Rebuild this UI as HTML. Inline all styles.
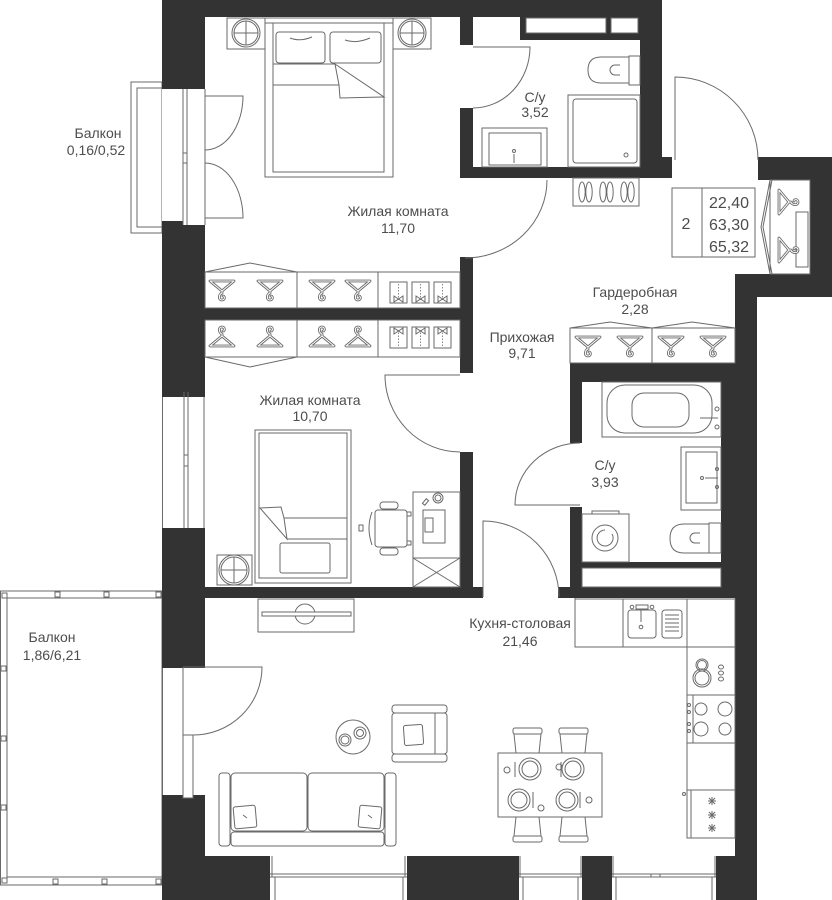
<!DOCTYPE html>
<html><head><meta charset="utf-8"><style>
html,body{margin:0;padding:0;background:#fff;}
svg{display:block;}
text{font-family:"Liberation Sans",sans-serif;fill:#4d4d4d;font-size:14px;text-anchor:middle;}
.w{fill:#333;}
.l{fill:none;stroke:#6a6a6a;stroke-width:1;}
.f{fill:#fff;stroke:#6a6a6a;stroke-width:1;}
</style></head><body>
<svg width="832" height="900" viewBox="0 0 832 900" xmlns="http://www.w3.org/2000/svg">
<defs>
<g id="hg" fill="none" stroke-linejoin="round" stroke-linecap="round">
<path d="M-12,-8 L12,-8 L0,2 Z M0,2 L0,4 C-3,5 -4,11 0,11 C3,11 3,7 1,7" stroke="#6a6a6a" stroke-width="2.8"/>
<path d="M-12,-8 L12,-8 L0,2 Z M0,2 L0,4 C-3,5 -4,11 0,11 C3,11 3,7 1,7" stroke="#fff" stroke-width="1"/>
</g>
<g id="cl">
<rect x="0" y="0" width="17" height="21" class="f"/>
<path d="M8.5,2 V18" stroke="#6a6a6a" stroke-width="0.8" stroke-dasharray="1.5,1.5"/>
<path d="M8.5,17 L4,14 L4,20 Z M8.5,17 L13,14 L13,20 Z" class="l"/>
</g>
<g id="chT"><rect x="0" y="0" width="29" height="6" rx="2" class="f"/><path d="M1,6 L3,25 M28,6 L26,25" class="l"/></g>
</defs>

<!-- small balcony -->
<rect x="131" y="82" width="31" height="151" class="f"/>
<rect x="137" y="88" width="25" height="139" class="f"/>

<!-- big balcony -->
<rect x="0.5" y="591" width="161.5" height="294" class="f"/>
<rect x="7" y="598" width="155" height="279" class="f"/>
<g class="f">
<rect x="2" y="593" width="5" height="5"/><rect x="55" y="592" width="5" height="5"/><rect x="104" y="592" width="5" height="5"/><rect x="156" y="592" width="5" height="5"/>
<rect x="1" y="666" width="5" height="5"/><rect x="1" y="736" width="5" height="5"/><rect x="1" y="805" width="5" height="5"/>
<rect x="2" y="878" width="5" height="5"/><rect x="53" y="879" width="5" height="5"/><rect x="102" y="879" width="5" height="5"/><rect x="156" y="879" width="5" height="5"/>
</g>

<!-- walls -->
<g class="w">
<rect x="162" y="0" width="500" height="17"/>
<rect x="640" y="0" width="22" height="178"/>
<rect x="640" y="157" width="32" height="21"/>
<rect x="460" y="167" width="212" height="11"/>
<rect x="460" y="17" width="13" height="28"/>
<rect x="460" y="108" width="13" height="70"/>
<rect x="520" y="17" width="120" height="23"/>
<rect x="162" y="0" width="43" height="89"/>
<rect x="162" y="221" width="21" height="7"/>
<rect x="162" y="225" width="43" height="172"/>
<rect x="205" y="308" width="268" height="12"/>
<rect x="460" y="257" width="13" height="116"/>
<rect x="460" y="452" width="13" height="136"/>
<rect x="162" y="528" width="43" height="140"/>
<rect x="162" y="587" width="321" height="11"/>
<rect x="558" y="587" width="199" height="11"/>
<rect x="162" y="795" width="43" height="105"/>
<rect x="162" y="856" width="595" height="44"/>
<rect x="735" y="274" width="22" height="626"/>
<rect x="735" y="274" width="97" height="23"/>
<rect x="810" y="157" width="22" height="140"/>
<rect x="758" y="157" width="74" height="23"/>
<rect x="570" y="363" width="187" height="19"/>
<rect x="721" y="363" width="36" height="235"/>
<rect x="570" y="363" width="12" height="80"/>
<rect x="570" y="507" width="12" height="91"/>
<rect x="570" y="562" width="187" height="36"/>
</g>
<rect x="582" y="568" width="139" height="19" class="f"/>
<rect x="526" y="18" width="80" height="15" class="f"/>
<rect x="611" y="18" width="27" height="15" class="f"/>

<!-- openings / windows -->
<rect x="162" y="89" width="43" height="132" fill="#fff"/>
<path d="M183,89 V225 M187,89 V225 M205,89 V225 M183,153 H187 M183,163 H187" class="l"/>
<rect x="162" y="397" width="43" height="131" fill="#fff"/>
<path d="M162.5,397 V528 M184,392 V528 M188,392 V528 M204,397 V528 M184,455 H188 M184,466 H188" class="l"/>
<rect x="162" y="668" width="43" height="127" fill="#fff"/>
<path d="M162.5,668 V795" class="l"/>
<rect x="183" y="735" width="10" height="63" class="f"/>
<path d="M183,667 V735" class="l"/>

<g>
<rect x="270" y="856" width="137" height="44" fill="#fff"/>
<path d="M270,874 H407 M270,877 H407 M272,856 V877 M405,856 V877" class="l"/>
<rect x="275" y="877" width="128" height="24" class="f"/>
<rect x="519" y="856" width="63" height="44" fill="#fff"/>
<path d="M519,874 H582 M519,877 H582 M520,856 V877 M581,856 V877" class="l"/>
<rect x="523" y="877" width="55" height="24" class="f"/>
<rect x="612" y="856" width="104" height="44" fill="#fff"/>
<path d="M612,874 H716 M612,877 H716 M613,856 V877 M715,856 V877 M651,874 V877 M660,874 V877" class="l"/>
<rect x="616" y="877" width="96" height="24" class="f"/>
</g>

<!-- doors -->
<path d="M205,96 L243,96 A38,54 0 0 1 205,150" class="l"/>
<path d="M205,218 L243,218 A38,55 0 0 0 205,163" class="l"/>
<path d="M473,47 L530,47 A57,61 0 0 1 473,108" class="l"/>
<path d="M547,180 A82,78 0 0 1 465,258" class="l"/>
<path d="M675,160 L675,77 A83,83 0 0 1 758,160" class="l"/>
<path d="M460,375 L385,375 A75,77 0 0 0 460,452" class="l"/>
<path d="M580,505 L515,505 A65,62 0 0 1 580,443" class="l"/>
<path d="M483,597 L483,521 A76,76 0 0 1 559,597" class="l"/>
<path d="M183,667 L262,667 A69,68 0 0 1 193,735" class="l"/>
<path d="M575,598 V610" class="l"/>

<!-- bedroom 11.70 -->
<rect x="227" y="18" width="38" height="31" class="f"/>
<circle cx="246" cy="33" r="14" class="l"/><circle cx="246" cy="33" r="12" class="l"/>
<path d="M234,33 H258 M246,21 V45" class="l"/>
<rect x="393" y="18" width="38" height="31" class="f"/>
<circle cx="412" cy="33" r="14" class="l"/><circle cx="412" cy="33" r="12" class="l"/>
<path d="M400,33 H424 M412,21 V45" class="l"/>
<rect x="265" y="18" width="128" height="159" class="f"/>
<path d="M265,23 H393 M273,23 V172 H384 V23" class="l"/>
<rect x="276" y="32" width="49" height="31" rx="3" class="f"/>
<rect x="330" y="32" width="51" height="31" rx="3" class="f"/>
<path d="M273,64 H335 M273,85 H339" class="l"/>
<path d="M335,64 L384,97 L340,98 L339,85 Z" class="f"/>
<path d="M290,38 Q300,42 312,37 M345,40 Q356,44 370,38" class="l"/>

<!-- wardrobes between bedrooms -->
<rect x="205" y="272" width="255" height="36" class="f"/>
<path d="M205,272 L250,263 L297,272 M297,272 V308 M378,272 V308" class="l"/>
<rect x="205" y="320" width="255" height="37" class="f"/>
<path d="M205,357 L250,367 L297,357 M297,320 V357 M378,320 V357" class="l"/>
<use href="#hg" transform="translate(222,289)"/>
<use href="#hg" transform="translate(270,289)"/>
<use href="#hg" transform="translate(322,289)"/>
<use href="#hg" transform="translate(358,289)"/>
<use href="#hg" transform="translate(222,338) scale(1,-1)"/>
<use href="#hg" transform="translate(270,338) scale(1,-1)"/>
<use href="#hg" transform="translate(322,338) scale(1,-1)"/>
<use href="#hg" transform="translate(358,338) scale(1,-1)"/>
<use href="#cl" transform="translate(390,282)"/>
<use href="#cl" transform="translate(412,282)"/>
<use href="#cl" transform="translate(434,282)"/>
<use href="#cl" transform="translate(390,348) scale(1,-1)"/>
<use href="#cl" transform="translate(412,348) scale(1,-1)"/>
<use href="#cl" transform="translate(434,348) scale(1,-1)"/>

<!-- bathroom 3.52 -->
<rect x="482" y="128" width="65" height="39" class="f"/>
<rect x="489" y="133" width="52" height="32" class="f"/>
<circle cx="514" cy="151" r="1.5" class="l"/>
<path d="M514,154 V163 M506,165 H522" class="l"/>
<rect x="568" y="95" width="72" height="72" class="f"/>
<rect x="573" y="99" width="64" height="64" rx="3" class="f"/>
<circle cx="626" cy="155" r="2" class="l"/>
<rect x="629" y="56" width="11" height="29" class="f"/>
<path d="M629,57 L601,57 Q588,57 588,70 Q588,83 601,83 L629,83" class="l"/>
<path d="M620,65 H615 A5,5 0 0 0 615,75 H620" class="l"/>

<!-- shoes -->
<rect x="573" y="178" width="66" height="28" class="f"/>
<g class="l">
<ellipse cx="582" cy="192" rx="3.2" ry="10"/><ellipse cx="589" cy="192" rx="3.2" ry="10"/>
<ellipse cx="603" cy="192" rx="3.2" ry="10"/><ellipse cx="610" cy="192" rx="3.2" ry="10"/>
<ellipse cx="624" cy="192" rx="3.2" ry="10"/><ellipse cx="631" cy="192" rx="3.2" ry="10"/>
</g>

<!-- info box -->
<rect x="672" y="188" width="83" height="69" class="f"/>
<path d="M702,188 V257" class="l"/>
<text x="686" y="229" style="font-size:16px">2</text>
<text x="729" y="208" style="font-size:16px">22,40</text>
<text x="729" y="230" style="font-size:16px">63,30</text>
<text x="729" y="252" style="font-size:16px">65,32</text>

<!-- closet near entrance -->
<rect x="770" y="180" width="40" height="94" class="f"/>
<path d="M770,180 L761,227 L770,274 M772,180 L763,227 L772,274" class="l"/>
<rect x="796" y="212" width="12" height="55" class="f"/>
<use href="#hg" transform="translate(787,202) rotate(-90)"/>
<use href="#hg" transform="translate(787,250) rotate(-90)"/>

<!-- gardrobe 2.28 -->
<rect x="570" y="328" width="165" height="35" class="f"/>
<path d="M570,328 L610,322 L652,328 L692,322 L735,328 M652,328 V363" class="l"/>
<use href="#hg" transform="translate(588,345)"/>
<use href="#hg" transform="translate(630,345)"/>
<use href="#hg" transform="translate(671,345)"/>
<use href="#hg" transform="translate(713,345)"/>

<!-- bathroom 3.93 -->
<rect x="602" y="382" width="119" height="55" class="f"/>
<rect x="607" y="385" width="105" height="48" rx="18" class="f"/>
<rect x="632" y="393" width="57" height="34" rx="12" class="f"/>
<path d="M700,418 H718" class="l"/>
<circle cx="717" cy="409" r="2" class="l"/><circle cx="717" cy="427" r="2" class="l"/>
<rect x="681" y="447" width="40" height="63" class="f"/>
<rect x="686" y="452" width="31" height="51" class="f"/>
<circle cx="702" cy="478" r="1.5" class="l"/>
<path d="M705,478 H718" class="l"/>
<circle cx="717" cy="469" r="1.5" class="l"/><circle cx="717" cy="487" r="1.5" class="l"/>
<rect x="592" y="511" width="27" height="3" class="f"/>
<rect x="582" y="514" width="47" height="48" class="f"/>
<circle cx="605" cy="538" r="13" class="l"/>
<path d="M605,530 A8,8 0 1 0 612,534" class="l"/>
<rect x="709" y="523" width="12" height="30" class="f"/>
<path d="M709,524 H684 Q670,524 670,538.5 Q670,553 684,553 H709" class="l"/>
<path d="M700,533 H695 A5,5 0 0 0 695,543 H700" class="l"/>

<!-- room 10.70 -->
<rect x="217" y="555" width="35" height="30" class="f"/>
<circle cx="234" cy="570" r="15" class="l"/><circle cx="234" cy="570" r="13" class="l"/>
<path d="M221,570 H247 M234,557 V583" class="l"/>
<rect x="255" y="430" width="96" height="153" class="f"/>
<rect x="259" y="433" width="88" height="145" class="f"/>
<path d="M284,518 H347 M287,539 H347" class="l"/>
<path d="M260,508 L281,507 L284,518 L287,539 Z" class="f"/>
<rect x="280" y="543" width="50" height="30" rx="2" class="f"/>
<rect x="413" y="492" width="47" height="66" class="f"/>
<rect x="413" y="558" width="47" height="29" class="f"/>
<path d="M413,558 L460,587 M460,558 L413,587" class="l"/>
<rect x="423" y="510" width="22" height="33" class="f"/>
<rect x="425" y="518" width="8" height="14" class="f"/>
<circle cx="438" cy="498" r="5" class="l"/><circle cx="438" cy="498" r="3" class="l"/>
<rect x="424" y="499" width="3" height="6" transform="rotate(40 425.5 502)" class="f"/>
<rect x="380" y="502" width="18" height="7" rx="3" class="f"/>
<rect x="380" y="548" width="18" height="7" rx="3" class="f"/>
<rect x="375" y="510" width="32" height="37" rx="3" class="f"/>
<path d="M372,512 Q366,528 372,545" class="l"/>
<rect x="359" y="525" width="4" height="6" class="f"/>
<rect x="407" y="512" width="4" height="4" class="f"/><rect x="407" y="541" width="4" height="4" class="f"/>

<!-- living / kitchen -->
<rect x="258" y="599" width="96" height="33" class="f"/>
<circle cx="305" cy="614" r="10" class="l"/>
<rect x="262" y="612" width="89" height="4" class="f"/>

<rect x="219" y="773" width="11" height="73" rx="3" class="f"/>
<rect x="385" y="773" width="11" height="73" rx="3" class="f"/>
<rect x="231" y="773" width="76" height="58" rx="4" class="f"/>
<rect x="308" y="773" width="76" height="58" rx="4" class="f"/>
<rect x="231" y="832" width="153" height="14" rx="3" class="f"/>
<rect x="234" y="806" width="22" height="22" rx="2" transform="rotate(-5 245 817)" class="f"/>
<rect x="359" y="806" width="22" height="22" rx="2" transform="rotate(5 370 817)" class="f"/>
<path d="M243,815 L247,818 M368,815 L372,818" class="l"/>

<circle cx="353" cy="737" r="17" class="f"/>
<circle cx="345" cy="740" r="6" class="l"/><circle cx="345" cy="740" r="4" class="l"/>
<circle cx="360" cy="733" r="6" class="l"/><circle cx="360" cy="733" r="3.5" class="l"/>

<rect x="392" y="705" width="55" height="8" rx="3" class="f"/>
<rect x="392" y="754" width="55" height="8" rx="3" class="f"/>
<rect x="392" y="713" width="55" height="41" rx="3" class="f"/>
<path d="M435,713 V754" class="l"/>
<rect x="404" y="725" width="19" height="20" rx="2" transform="rotate(-4 413 735)" class="f"/>

<rect x="498" y="753" width="104" height="64" class="f"/>
<use href="#chT" transform="translate(513,728)"/>
<use href="#chT" transform="translate(559,728)"/>
<use href="#chT" transform="translate(513,842) scale(1,-1)"/>
<use href="#chT" transform="translate(559,842) scale(1,-1)"/>
<g class="l">
<circle cx="530" cy="769" r="11"/><circle cx="530" cy="769" r="8"/>
<circle cx="573" cy="769" r="11"/><circle cx="573" cy="769" r="8"/>
<circle cx="519" cy="800" r="11"/><circle cx="519" cy="800" r="8"/>
<circle cx="567" cy="800" r="11"/><circle cx="567" cy="800" r="8"/>
<path d="M515,762 V777 M561,762 V777 M533,792 V808 M580,792 V808"/>
<circle cx="507" cy="770" r="3"/><circle cx="559" cy="767" r="3"/><circle cx="541" cy="808" r="3"/><circle cx="589" cy="800" r="3"/>
</g>

<rect x="575" y="599" width="112" height="48" class="f"/>
<path d="M623,599 V647" class="l"/>
<rect x="628" y="610" width="28" height="28" rx="3" class="f"/>
<path d="M641,608 V622" class="l"/>
<circle cx="641" cy="627" r="1.8" class="l"/>
<rect x="636" y="605" width="12" height="4" class="f"/>
<circle cx="632" cy="607" r="1.8" class="l"/><circle cx="652" cy="607" r="1.8" class="l"/>
<rect x="662" y="610" width="20" height="28" rx="3" class="f"/>
<path d="M665,615 H679 M665,619 H679 M665,623 H679 M665,627 H679 M665,631 H679" class="l"/>
<rect x="687" y="599" width="48" height="239" class="f"/>
<path d="M687,647 H735 M687,695 H735 M687,743 H735 M687,790 H735 M693,695 V743 M691,790 V838" class="l"/>
<circle cx="702" cy="665" r="6" class="l"/><circle cx="702" cy="665" r="4.5" class="l"/>
<circle cx="702" cy="678" r="9" class="l"/><circle cx="702" cy="678" r="7" class="l"/>
<ellipse cx="721" cy="667" rx="2.5" ry="2" class="l"/><ellipse cx="721" cy="673" rx="2.5" ry="2" class="l"/><ellipse cx="721" cy="679" rx="2.5" ry="2" class="l"/>
<circle cx="701" cy="709" r="6" class="l"/><circle cx="725" cy="709" r="7" class="l"/>
<circle cx="701" cy="729" r="7" class="l"/><circle cx="725" cy="729" r="6" class="l"/>
<circle cx="689" cy="705" r="1.5" class="l"/><circle cx="689" cy="712" r="1.5" class="l"/>
<circle cx="689" cy="724" r="1.5" class="l"/><circle cx="689" cy="731" r="1.5" class="l"/>
<circle cx="684" cy="794" r="1.5" class="l"/>
<path d="M708,801 H716 M712,797 V805 M709,798 L715,804 M715,798 L709,804 M708,815 H716 M712,811 V819 M709,812 L715,818 M715,812 L709,818 M708,828 H716 M712,824 V832 M709,825 L715,831 M715,825 L709,831" class="l"/>

<!-- labels -->
<text x="98" y="138">Балкон</text>
<text x="96" y="155">0,16/0,52</text>
<text x="398" y="216">Жилая комната</text>
<text x="398" y="233">11,70</text>
<text x="535" y="102">С/у</text>
<text x="535" y="117">3,52</text>
<text x="635" y="297">Гардеробная</text>
<text x="635" y="314">2,28</text>
<text x="522" y="342">Прихожая</text>
<text x="522" y="358">9,71</text>
<text x="310" y="405">Жилая комната</text>
<text x="310" y="421">10,70</text>
<text x="605" y="470">С/у</text>
<text x="605" y="487">3,93</text>
<text x="52" y="642">Балкон</text>
<text x="52" y="660">1,86/6,21</text>
<text x="520" y="628">Кухня-столовая</text>
<text x="520" y="646">21,46</text>
</svg>
</body></html>
